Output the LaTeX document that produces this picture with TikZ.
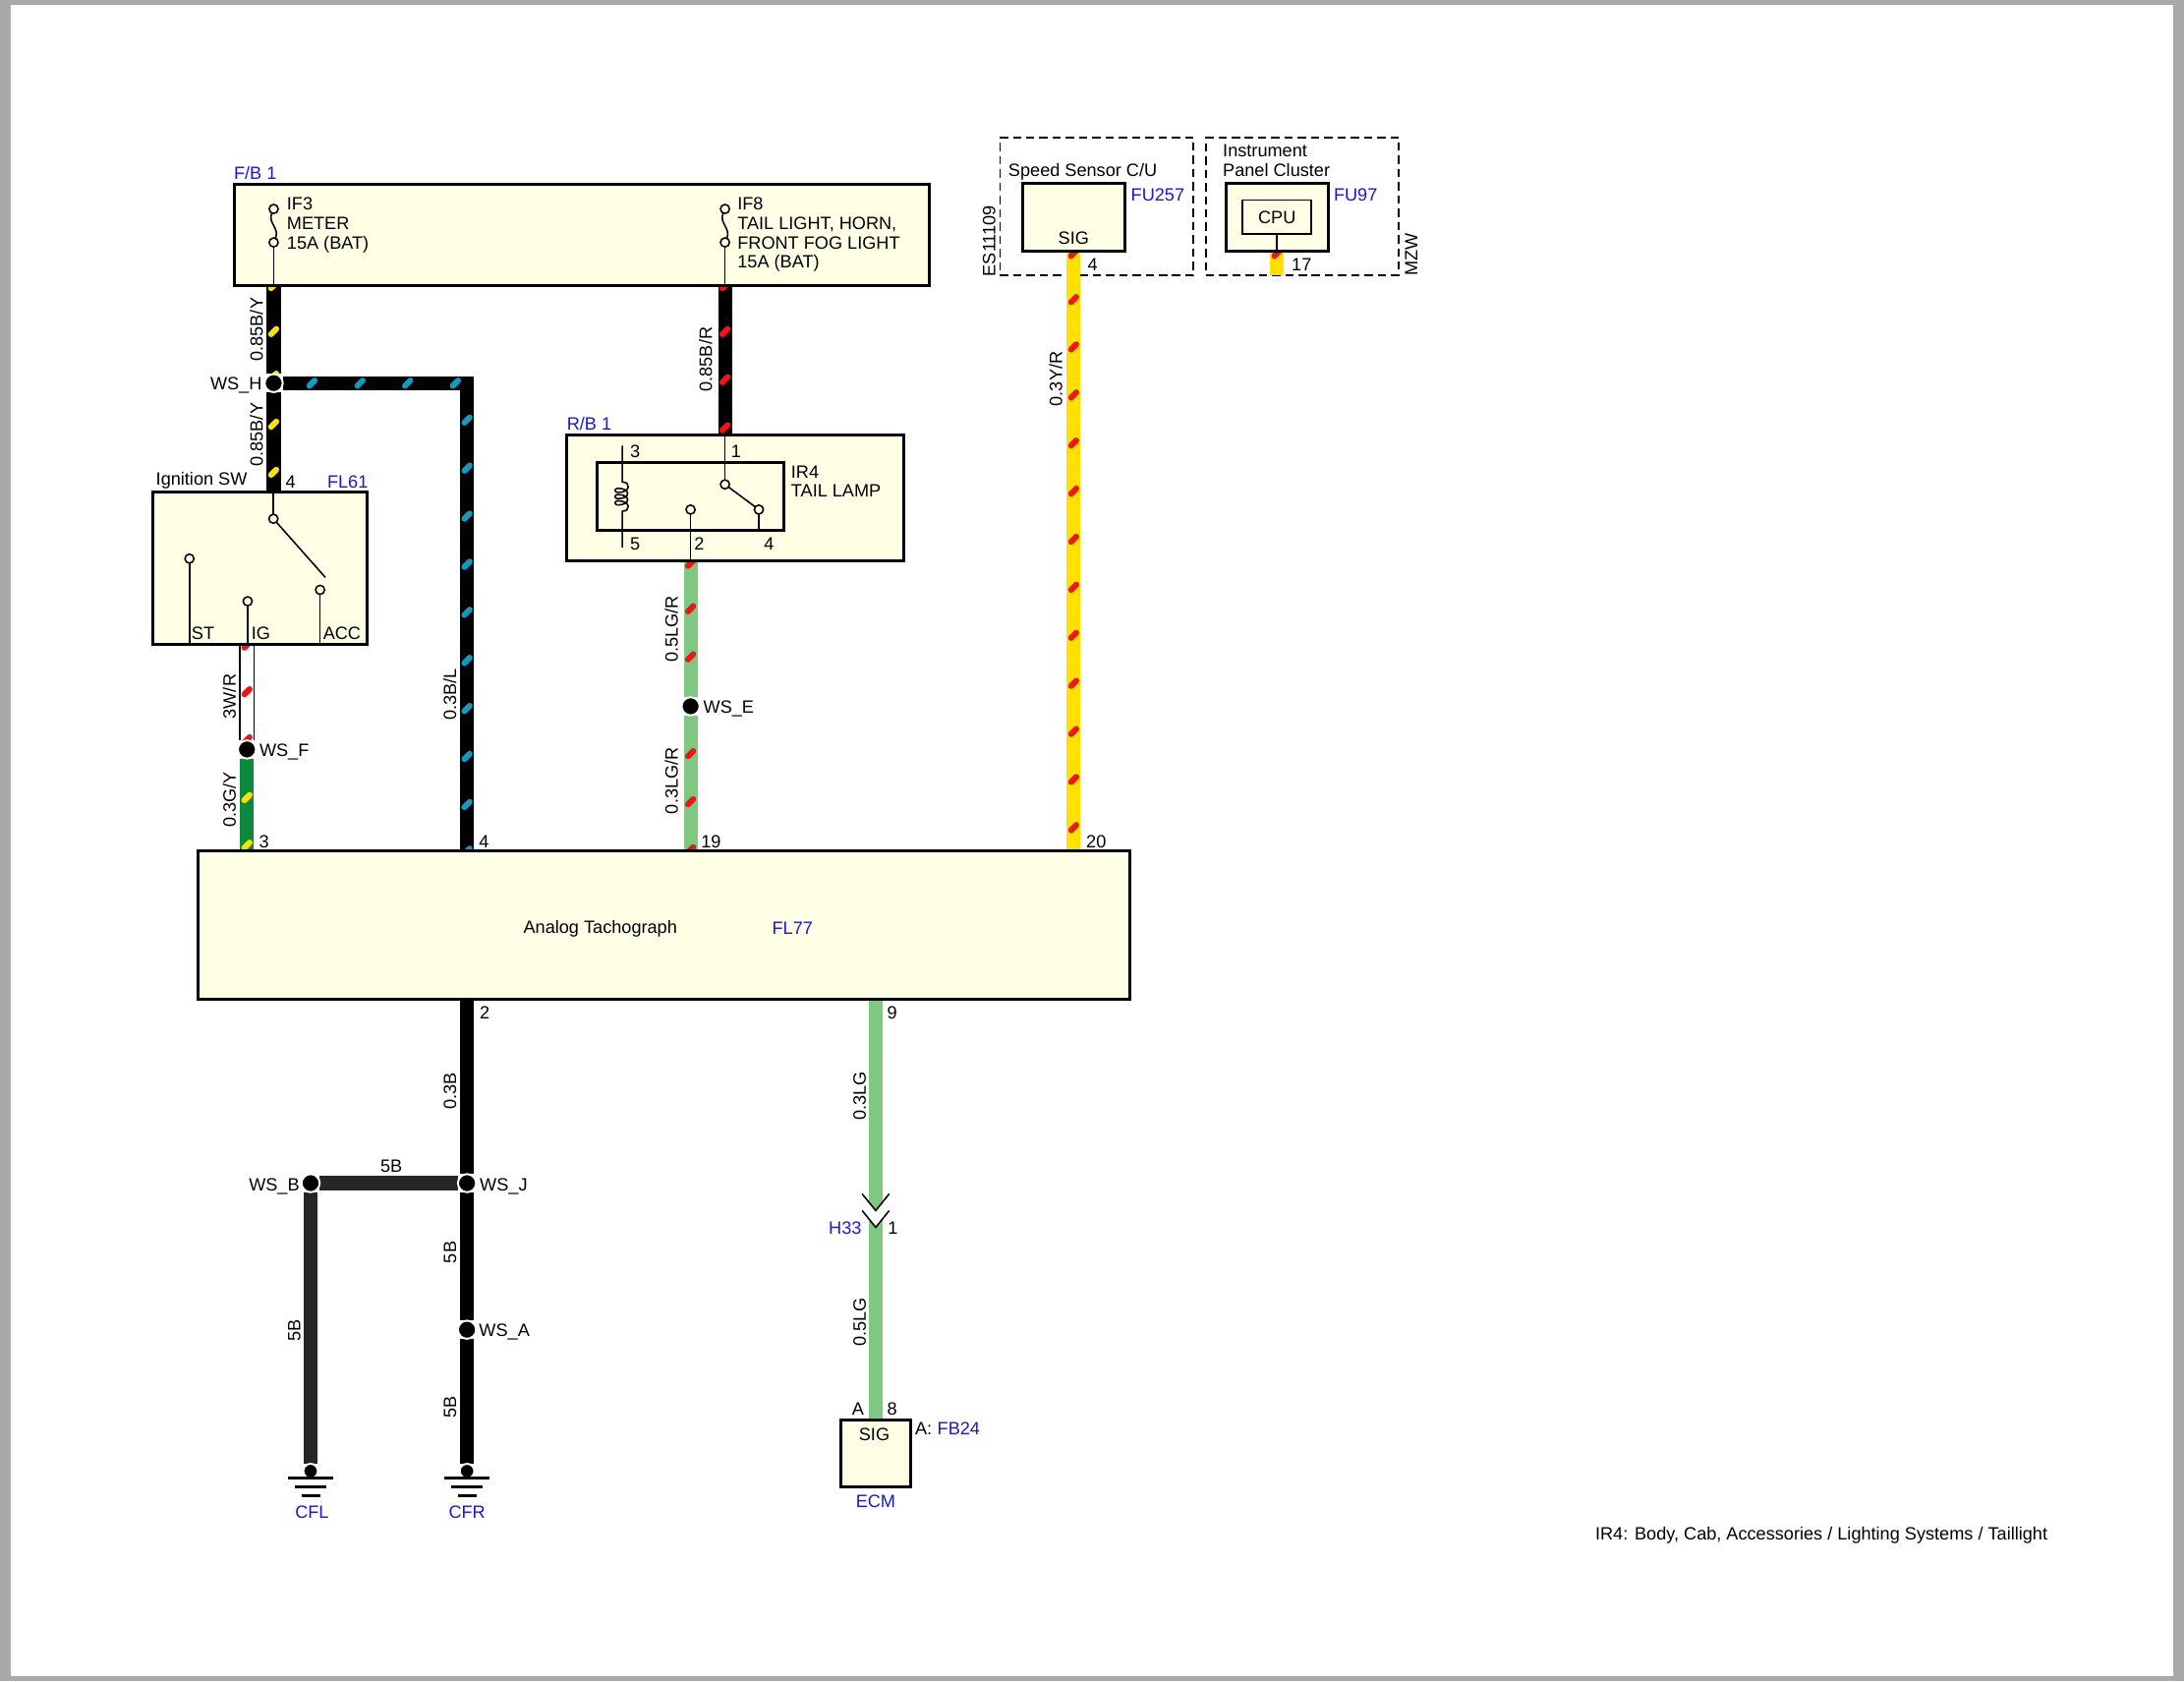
\documentclass[tikz,border=0pt]{standalone}
\usepackage{fontspec}
\setmainfont{Liberation Sans}
\usetikzlibrary{shapes,backgrounds}
\definecolor{boxcream}{HTML}{FFFFE6}
\definecolor{pagegray}{HTML}{A9A9A9}
\definecolor{codeblue}{HTML}{1A1ACD}
\definecolor{wireyellow}{HTML}{FFE100}
\definecolor{wirelg}{HTML}{80C882}
\definecolor{wiregreen}{HTML}{0B8A3C}
\definecolor{wirered}{HTML}{F01414}
\definecolor{wirelblue}{HTML}{0E9CC4}
\newcommand{\wdfont}{\fontsize{12.8}{14}\selectfont}
\newcommand{\stripe}[2]{(#1-1.9,#2+1.9) -- (#1+1.9,#2-1.9)}
\tikzset{
  txt/.style={inner sep=0pt,outer sep=0pt,text height=9.2pt,text depth=0pt,font=\wdfont},
  ltxt/.style={txt,anchor=west},
  rtxt/.style={txt,anchor=east},
  vtxt/.style={txt,rotate=90},
  code/.style={text=codeblue},
  box/.style={draw,line width=2.1pt,fill=boxcream,inner sep=0pt,outer sep=0pt,anchor=north west},
  inbox/.style={box,line width=1.1pt},
  frame/.style={draw,line width=1pt,dash pattern=on 6pt off 3.5pt,inner sep=0pt,outer sep=0pt,anchor=north west},
  splice/.style={circle,fill=black,draw=white,line width=1.4pt,minimum size=13pt,inner sep=0pt,outer sep=0pt},
  gnddot/.style={splice,minimum size=10.5pt},
  contact/.style={circle,fill=boxcream,draw=black,line width=1.1pt,minimum size=6.5pt,inner sep=0pt,outer sep=0pt},
  thin wire/.style={line width=1.1pt},
  wireblk/.style={line width=10pt,black,line join=miter},
  wirefive/.style={line width=10pt,black!85,line join=miter},
  wirey/.style={line width=10pt,wireyellow},
  wirel/.style={line width=10pt,wirelg},
  wireg/.style={line width=10pt,wiregreen},
  wirew/.style={draw=black,line width=1.1pt,double=white,double distance=9.2pt},
  stripeY/.style={line width=4.2pt,line cap=round,wireyellow},
  stripeR/.style={line width=4.2pt,line cap=round,wirered},
  stripeL/.style={line width=4.2pt,line cap=round,wirelblue},
  gnd/.style={line width=1.8pt}
}
\begin{document}
\begin{tikzpicture}[x=1pt,y=-1pt]
  % Page
\begin{scope}[on background layer]
  \fill[pagegray] (0,0) rectangle (1568,1207);
  \fill[white] (8,3.3) rectangle (1560.5,1203.5);
\end{scope}
  % Node: fb
  \node[box,minimum width=499pt,minimum height=73pt] (fb) at (168,132) {};
  \node[ltxt,code] (fbName) at (168,124.5) {F/B 1};
  \node[contact] (ifThreeTop) at (196.5,150) {};
  \node[contact] (ifThreeBot) at (196.5,174) {};
  \node[contact] (ifEightTop) at (520.5,150) {};
  \node[contact] (ifEightBot) at (520.5,174) {};
  \draw[thin wire] (ifThreeTop) .. controls (192,160) and (201,164) .. (ifThreeBot);
  \draw[thin wire] (ifEightTop) .. controls (516,160) and (525,164) .. (ifEightBot);
  \draw[thin wire] (ifThreeBot) -- (ifThreeBot |- fb.south);
  \draw[thin wire] (ifEightBot) -- (ifEightBot |- fb.south);
  \node[ltxt] (ifThreeA) at (206,146) {IF3};
  \node[ltxt] (ifThreeB) at (206,160) {METER};
  \node[ltxt] (ifThreeC) at (206,174) {15A (BAT)};
  \node[ltxt] (ifEightA) at (529.5,146) {IF8};
  \node[ltxt] (ifEightB) at (529.5,160) {TAIL LIGHT, HORN,};
  \node[ltxt] (ifEightC) at (529.5,174) {FRONT FOG LIGHT};
  \node[ltxt] (ifEightD) at (529.5,188) {15A (BAT)};
  % Node: ign
  \node[box,minimum width=154pt,minimum height=109pt] (ign) at (109.4,353.3) {};
  \node[ltxt] (ignName) at (112,343.5) {Ignition SW};
  \node[ltxt] (ignPin) at (205,346) {4};
  \node[ltxt,code] (ignCode) at (235,345.5) {FL61};
  \node[contact] (ignCom) at (196.3,372.4) {};
  \node[contact] (ignSt) at (136,401) {};
  \node[contact] (ignIg) at (177.8,431.6) {};
  \node[contact] (ignAcc) at (229.8,423.4) {};
  \coordinate (ignBlade) at (233.6,414.5);
  \draw[thin wire] (ignCom) -- (ignCom |- ign.north);
  \draw[thin wire] (ignCom) -- (ignBlade);
  \draw[thin wire] (ignSt) -- (ignSt |- ign.south);
  \draw[thin wire] (ignIg) -- (ignIg |- ign.south);
  \draw[thin wire] (ignAcc) -- (ignAcc |- ign.south);
  \node[ltxt] (ignStTxt) at (137.6,454.4) {ST};
  \node[ltxt] (ignIgTxt) at (180.5,454.4) {IG};
  \node[ltxt] (ignAccTxt) at (232,454.4) {ACC};
  % Node: rb
  \node[box,minimum width=242.5pt,minimum height=90.5pt] (rb) at (406.5,312.3) {};
  \node[ltxt,code] (rbName) at (407,304) {R/B 1};
  \node[box,minimum width=134.2pt,minimum height=48.3pt] (relay) at (428.8,332.2) {};
  \node[contact] (relayOne) at (520.5,347.7) {};
  \node[contact] (relayTwo) at (495.8,365.8) {};
  \node[contact] (relayFour) at (544.8,365.8) {};
  \draw[thin wire] (relayOne) -- (relayOne |- rb.north);
  \draw[thin wire] (relayOne) -- (relayFour);
  \draw[thin wire] (relayTwo) -- (relayTwo |- rb.south);
  \draw[thin wire] (relayFour) -- (relayFour |- relay.south);
  \draw[thin wire] (446.8,320) -- (446.8,346)
    .. controls (453,346) and (453,353.5) .. (443.5,353.5)
    .. controls (441,353.5) and (441,350.5) .. (443.5,350.5)
    .. controls (453,350.5) and (453,358) .. (443.5,358)
    .. controls (441,358) and (441,355) .. (443.5,355)
    .. controls (453,355) and (453,362.5) .. (443.5,362.5)
    .. controls (441,362.5) and (441,359.5) .. (443.5,359.5)
    .. controls (453,359.5) and (453,367) .. (446.8,367) -- (446.8,393);
  \node[ltxt] (relayTxtThree) at (452.5,324) {3};
  \node[ltxt] (relayTxtOne) at (525,324) {1};
  \node[ltxt] (relayTxtFive) at (452.5,390) {5};
  \node[ltxt] (relayTxtTwo) at (498.5,390) {2};
  \node[ltxt] (relayTxtFour) at (548.5,390) {4};
  \node[ltxt] (relayNameA) at (568,339) {IR4};
  \node[ltxt] (relayNameB) at (568,352.2) {TAIL LAMP};
  % Node: sensor
  \node[box,minimum width=73.8pt,minimum height=48.5pt] (sensor) at (734,131.5) {};
  \node[ltxt] (sensorName) at (724,122) {Speed Sensor C/U};
  \node[txt] (sensorSig) at (770.8,171) {SIG};
  \node[ltxt,code] (sensorCode) at (812,140) {FU257};
  \node[txt] (sensorPin) at (784.5,190) {4};
  \node[vtxt] (sensorFrameTxt) at (710,173) {ES11109};
  % Node: cluster
  \node[box,minimum width=73.5pt,minimum height=48.5pt] (cluster) at (880,131.5) {};
  \node[inbox,minimum width=49.5pt,minimum height=24.5pt] (cpu) at (892,143.5) {};
  \node[txt] (cpuTxt) at (916.8,156) {CPU};
  \draw[thin wire] (cpu.south) -- (cpu.south |- cluster.south);
  \node[ltxt] (clusterNameA) at (878,108) {Instrument};
  \node[ltxt] (clusterNameB) at (878,122) {Panel Cluster};
  \node[ltxt,code] (clusterCode) at (957.6,140) {FU97};
  \node[txt] (clusterPin) at (934.5,190) {17};
  \node[vtxt] (clusterFrameTxt) at (1013,183) {MZW};
  % Node: tach
  \node[box,minimum width=668.5pt,minimum height=106.5pt] (tach) at (142.5,611) {};
  \node[txt] (tachName) at (431,665.5) {Analog Tachograph};
  \node[txt,code] (tachCode) at (569,666) {FL77};
  \node[txt] (tachPinThree) at (189.6,604) {3};
  \node[txt] (tachPinFour) at (347.5,604) {4};
  \node[txt] (tachPinNineteen) at (510.5,604) {19};
  \node[txt] (tachPinTwenty) at (787,604) {20};
  \node[txt] (tachPinTwo) at (348,727) {2};
  \node[txt] (tachPinNine) at (640.5,727) {9};
  % Node: ecm
  \node[box,minimum width=49.5pt,minimum height=48.5pt] (ecm) at (604,1019) {};
  \node[txt] (ecmSig) at (627.7,1029.5) {SIG};
  \node[txt] (ecmA) at (616,1011.5) {A};
  \node[txt] (ecmPin) at (640.5,1011.5) {8};
  \node[ltxt] (ecmConn) at (657,1025.5) {A:};
  \node[ltxt,code] (ecmCode) at (673,1025.5) {FB24};
  \node[txt,code] (ecmName) at (628.7,1077.5) {ECM};
  % Node: splices
  \node[splice] (wsH) at (196.5,275) {};
  \node[rtxt] (wsHTxt) at (188,275.5) {WS\_H};
  \node[splice] (wsF) at (177.3,538) {};
  \node[ltxt] (wsFTxt) at (186.3,538.5) {WS\_F};
  \node[splice] (wsE) at (495.8,507) {};
  \node[ltxt] (wsETxt) at (505,507.5) {WS\_E};
  \node[splice] (wsJ) at (335.3,849.3) {};
  \node[ltxt] (wsJTxt) at (344.5,850) {WS\_J};
  \node[splice] (wsB) at (223,849.3) {};
  \node[rtxt] (wsBTxt) at (215,850) {WS\_B};
  \node[splice] (wsA) at (335.3,954.5) {};
  \node[ltxt] (wsATxt) at (344,955) {WS\_A};
  % Node: grounds
  \node[gnddot] (gndL) at (223,1056) {};
  \node[gnddot] (gndR) at (335.3,1056) {};
  \node[txt,code] (gndLTxt) at (224,1085.5) {CFL};
  \node[txt,code] (gndRTxt) at (335.3,1085.5) {CFR};
  \draw[gnd] (207,1061) -- (239,1061);
  \draw[gnd] (211.5,1067.5) -- (234.5,1067.5);
  \draw[gnd] (216.3,1073.5) -- (229.7,1073.5);
  \draw[gnd] (319.3,1061) -- (351.3,1061);
  \draw[gnd] (323.8,1067.5) -- (346.8,1067.5);
  \draw[gnd] (328.6,1073.5) -- (342,1073.5);
  % Node: connector
  \coordinate (connTop) at (628.7,869);
  \coordinate (connBot) at (628.7,881);
  \draw[thin wire] (619,857) -- (connTop) -- (638.4,857);
  \draw[thin wire] (619,869) -- (connBot) -- (638.4,869);
  \node[rtxt,code] (connCode) at (618.5,881.5) {H33};
  \node[txt] (connPin) at (641,881.5) {1};
  % Wire labels
  \node[vtxt] (lblByA) at (184,236.5) {0.85B/Y};
  \node[vtxt] (lblByB) at (184,312) {0.85B/Y};
  \node[vtxt] (lblBr) at (506.5,258) {0.85B/R};
  \node[vtxt] (lblWr) at (164.6,500) {3W/R};
  \node[vtxt] (lblGy) at (164.6,574) {0.3G/Y};
  \node[vtxt] (lblBl) at (323,498.7) {0.3B/L};
  \node[vtxt] (lblLgrA) at (482,451.6) {0.5LG/R};
  \node[vtxt] (lblLgrB) at (482,560.5) {0.3LG/R};
  \node[vtxt] (lblYr) at (758,272) {0.3Y/R};
  \node[vtxt] (lblB) at (323,783) {0.3B};
  \node[vtxt] (lblFiveA) at (323,899) {5B};
  \node[vtxt] (lblFiveB) at (323,1010) {5B};
  \node[vtxt] (lblFiveC) at (211,955) {5B};
  \node[txt] (lblFiveD) at (281,837) {5B};
  \node[vtxt] (lblLgA) at (617,787) {0.3LG};
  \node[vtxt] (lblLgB) at (617,949) {0.5LG};
  \node[rtxt] (note) at (1470,1101) {IR4: Body, Cab, Accessories / Lighting Systems / Taillight};
  % Frames and wires
\begin{scope}[on background layer]
  \node[frame,minimum width=138.7pt,minimum height=98.8pt] (sensorFrame) at (718,98.8) {};
  \node[frame,minimum width=138.6pt,minimum height=98.8pt] (clusterFrame) at (865.7,98.8) {};
  \coordinate (blCorner) at (335.3,275);
  \coordinate (sensorPinC) at (770.8,180);
  \coordinate (clusterPinC) at (916.8,180);
  % Edge: fb -> wsH
  \draw[wireblk] (fb.south -| wsH) -- (wsH);
  % Edge: wsH -> ign
  \draw[wireblk] (wsH) -- (wsH |- ign.north);
  % Edge: wsH -> tach
  \draw[wireblk] (wsH) -- (blCorner) -- (blCorner |- tach.north);
  % Edge: fb -> rb
  \draw[wireblk] (fb.south -| relayOne) -- (rb.north -| relayOne);
  % Edge: ign -> wsF
  \draw[wirew] (ign.south -| wsF) -- (wsF);
  % Edge: wsF -> tach
  \draw[wireg] (wsF) -- (tach.north -| wsF);
  % Edge: rb -> wsE
  \draw[wirel] (rb.south -| wsE) -- (wsE);
  % Edge: wsE -> tach
  \draw[wirel] (wsE) -- (tach.north -| wsE);
  % Edge: sensor -> tach
  \draw[wirey] (sensorPinC) -- (sensorPinC |- tach.north);
  % Edge: cluster -> frame
  \draw[wirey] (clusterPinC) -- (clusterPinC |- clusterFrame.south);
  % Edge: tach -> wsJ
  \draw[wireblk] (tach.south -| wsJ) -- (wsJ);
  % Edge: wsJ -> wsA
  \draw[wireblk] (wsJ) -- (wsA);
  % Edge: wsA -> gndR
  \draw[wireblk] (wsA) -- (gndR);
  % Edge: wsJ -> wsB
  \draw[wirefive] (wsJ) -- (wsB);
  % Edge: wsB -> gndL
  \draw[wirefive] (wsB) -- (gndL);
  % Edge: tach -> connTop
  \draw[wirel] (tach.south -| connTop) -- (connTop);
  % Edge: connBot -> ecm
  \draw[wirel] (connTop) -- (ecm.north -| connBot);
  \fill[white] (619,857) -- (connTop) -- (638.4,857) -- (638.4,869) -- (connBot) -- (619,869) -- cycle;
  % Stripes
  \draw[stripeY] \stripe{196.5}{205} \stripe{196.5}{238} \stripe{196.5}{270} \stripe{196.5}{304.5} \stripe{196.5}{339};
  \draw[stripeL] \stripe{224}{275} \stripe{258.5}{275} \stripe{292.7}{275} \stripe{327}{275};
  \draw[stripeL] \stripe{335.3}{301.5} \stripe{335.3}{336} \stripe{335.3}{370.5} \stripe{335.3}{405} \stripe{335.3}{439.5}
    \stripe{335.3}{474} \stripe{335.3}{508.5} \stripe{335.3}{543} \stripe{335.3}{577.5} \stripe{335.3}{611};
  \draw[stripeR] \stripe{520.5}{205} \stripe{520.5}{238} \stripe{520.5}{272.5} \stripe{520.5}{307};
  \draw[stripeR] \stripe{177.3}{463} \stripe{177.3}{496.5} \stripe{177.3}{531};
  \draw[stripeY] \stripe{177.3}{572.5} \stripe{177.3}{606.7};
  \draw[stripeR] \stripe{495.8}{404.4} \stripe{495.8}{437} \stripe{495.8}{471.5} \stripe{495.8}{541} \stripe{495.8}{575.5} \stripe{495.8}{610};
  \draw[stripeR] \stripe{770.8}{181.8} \stripe{770.8}{215} \stripe{770.8}{249} \stripe{770.8}{283.5} \stripe{770.8}{318} \stripe{770.8}{352.5}
    \stripe{770.8}{387} \stripe{770.8}{421.5} \stripe{770.8}{456} \stripe{770.8}{490.5} \stripe{770.8}{525} \stripe{770.8}{559.5} \stripe{770.8}{594};
  \draw[stripeR] \stripe{916.8}{181.8};
\end{scope}
\end{tikzpicture}
\end{document}
